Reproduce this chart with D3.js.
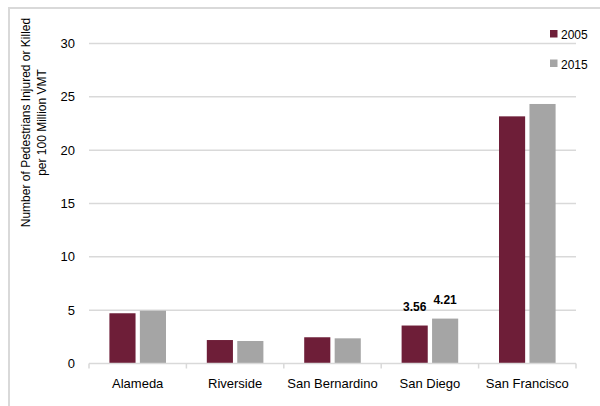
<!DOCTYPE html>
<html>
<head>
<meta charset="utf-8">
<script src="https://cdn.jsdelivr.net/npm/d3@7"></script>
<style>
  body { margin: 0; background: #fff; }
  svg { display: block; font-family: "Liberation Sans", Arial, sans-serif; }
  .grid line { stroke: #d9d9d9; stroke-width: 1.5px; }
  .tick-label { font-size: 13px; fill: #000; }
</style>
</head>
<body>
<svg id="chart" width="600" height="406"></svg>
<script>
  const counties = ['Alameda', 'Riverside', 'San Bernardino', 'San Diego', 'San Francisco'];
  const years = ['2005', '2015'];
  const values2005 = [4.71, 2.20, 2.46, 3.56, 23.17];
  const values2015 = [4.95, 2.11, 2.36, 4.21, 24.33];
  const yTicks = [0, 5, 10, 15, 20, 25, 30];
  const labelled = { 'San Diego': true };
  const colors = { '2005': '#6e1e38', '2015': '#a5a5a5' };

  const svg = d3.select('#chart');
  const margin = { left: 89, right: 24, top: 43.5, bottom: 42.5 };
  const width = 600, height = 406;

  // outer frame (light grey, open at the right and bottom)
  svg.append('path')
    .attr('d', `M9,${height} L9,8 L${width},8`)
    .attr('fill', 'none')
    .attr('stroke', '#d9d9d9')
    .attr('stroke-width', 2);

  const x0 = d3.scaleBand().domain(counties).range([margin.left, width - margin.right]);
  const x1 = d3.scaleBand().domain(years).range([0, x0.bandwidth()])
    .paddingInner(0.142).paddingOuter(0.67);
  const y = d3.scaleLinear().domain([0, 30]).range([height - margin.bottom, margin.top]);

  // gridlines
  svg.append('g').attr('class', 'grid')
    .selectAll('line').data(yTicks.filter(d => d > 0)).join('line')
    .attr('x1', margin.left).attr('x2', width - margin.right)
    .attr('y1', d => y(d)).attr('y2', d => y(d));

  // y tick labels
  svg.append('g').selectAll('text').data(yTicks).join('text')
    .attr('class', 'tick-label')
    .attr('x', 75).attr('y', d => y(d))
    .attr('dy', '0.35em')
    .attr('text-anchor', 'end')
    .text(d => d);

  // y axis title
  const yTitle = svg.append('text')
    .attr('transform', 'translate(0,122.5) rotate(-90)')
    .attr('text-anchor', 'middle')
    .style('font-size', '12px');
  yTitle.append('tspan').attr('x', 0).attr('y', 29.5).text('Number of Pedestrians Injured or Killed');
  yTitle.append('tspan').attr('x', 0).attr('y', 45.5).text('per 100 Million VMT');

  const rows = counties.map((c, i) => ({ county: c, '2005': values2005[i], '2015': values2015[i] }));

  // bars
  const groups = svg.append('g').selectAll('g').data(rows).join('g')
    .attr('transform', d => `translate(${x0(d.county)},0)`);

  groups.selectAll('rect')
    .data(d => years.map(k => ({ key: k, value: d[k], county: d.county })))
    .join('rect')
    .attr('x', d => x1(d.key))
    .attr('width', x1.bandwidth())
    .attr('y', d => y(d.value))
    .attr('height', d => y(0) - y(d.value))
    .attr('fill', d => colors[d.key]);

  groups.selectAll('text.val')
    .data(d => labelled[d.county] ? years.map(k => ({ key: k, value: d[k] })) : [])
    .join('text')
    .attr('class', 'val')
    .attr('x', d => x1(d.key) + x1.bandwidth() / 2)
    .attr('y', d => y(d.value) - 15)
    .attr('text-anchor', 'middle')
    .style('font-size', '12px')
    .style('font-weight', 'bold')
    .text(d => d.value.toFixed(2));

  // x axis line + ticks
  const xAxis = svg.append('g').attr('stroke', '#d9d9d9').attr('stroke-width', 1.5);
  xAxis.append('line')
    .attr('x1', margin.left).attr('x2', width - margin.right)
    .attr('y1', y(0)).attr('y2', y(0));
  const boundaries = counties.map(c => x0(c)).concat([x0(counties[counties.length - 1]) + x0.bandwidth()]);
  xAxis.selectAll('line.tk').data(boundaries).join('line')
    .attr('class', 'tk')
    .attr('x1', d => d).attr('x2', d => d)
    .attr('y1', y(0)).attr('y2', y(0) + 5);

  // category labels
  svg.append('g').selectAll('text').data(counties).join('text')
    .attr('class', 'tick-label')
    .attr('x', d => x0(d) + x0.bandwidth() / 2)
    .attr('y', 388)
    .attr('text-anchor', 'middle')
    .text(d => d);

  // legend
  const legend = svg.append('g').selectAll('g').data(years).join('g')
    .attr('transform', (d, i) => `translate(550,${30 + i * 29.5})`);
  legend.append('rect').attr('width', 7.5).attr('height', 7.5).attr('fill', d => colors[d]);
  legend.append('text').attr('x', 11).attr('y', 9)
    .style('font-size', '12px').text(d => d);
</script>
</body>
</html>
